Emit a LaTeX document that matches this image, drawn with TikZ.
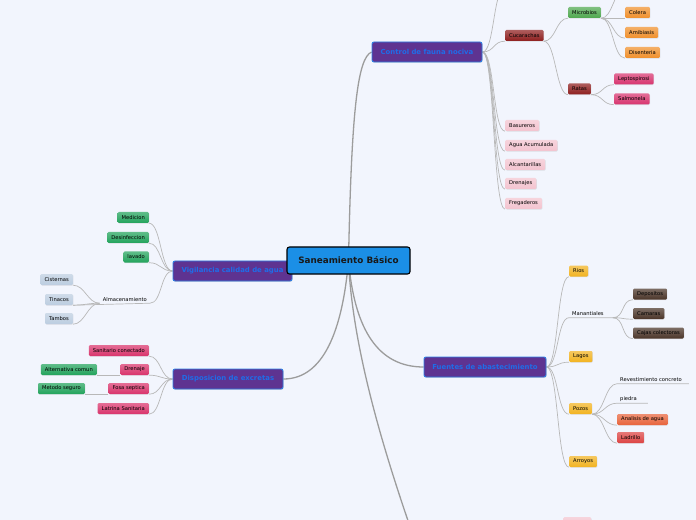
\documentclass[tikz,border=0pt]{standalone}
\usepackage{fontspec}
\setmainfont{DejaVu Sans}
\usetikzlibrary{shadows}
\pgfdeclarelayer{back}
\pgfdeclarelayer{edges}
\pgfsetlayers{back,edges,main}

\definecolor{mmBack}{HTML}{F2F5FD}
\definecolor{mmLine}{HTML}{B8B8B8}
\definecolor{mmRoot}{HTML}{1B8FE6}
\definecolor{mmTopic}{HTML}{5E3391}
\definecolor{mmTopicBorder}{HTML}{2D7FE4}
\definecolor{mmTopicText}{HTML}{1F6DE8}
\definecolor{mmDarkRed}{HTML}{8E1E1E}
\definecolor{mmGreen}{HTML}{4FA84F}
\definecolor{mmOrange}{HTML}{F0902C}
\definecolor{mmMagenta}{HTML}{D8336E}
\definecolor{mmPink}{HTML}{F3C3CF}
\definecolor{mmEmerald}{HTML}{22A35C}
\definecolor{mmSteel}{HTML}{BCCDE0}
\definecolor{mmRose}{HTML}{D9346C}
\definecolor{mmYellow}{HTML}{F2B321}
\definecolor{mmBrown}{HTML}{4B3529}
\definecolor{mmCoral}{HTML}{E8643C}
\definecolor{mmRed}{HTML}{DC4343}

\tikzset{
  root/.style={draw=black, line width=1.1pt, fill=mmRoot, rounded corners=2.5pt,
    minimum width=123bp, minimum height=27bp, inner sep=0pt,
    font=\fontsize{8.8bp}{10bp}\selectfont\bfseries, text=black!90},
  topic/.style={draw=mmTopicBorder, line width=0.9pt, fill=mmTopic, rounded corners=2pt,
    minimum height=20bp, inner sep=0pt, font=\fontsize{6.9bp}{8bp}\selectfont\bfseries,
    text=mmTopicText, drop shadow={shadow xshift=0.6pt, shadow yshift=-0.8pt, opacity=0.25}},
  leaf/.style={rounded corners=1.2pt, minimum height=11bp, inner xsep=4bp, inner ysep=0pt,
    font=\fontsize{5.2bp}{6bp}\selectfont, text=black,
    top color=#1!72!white, bottom color=#1,
    drop shadow={shadow xshift=0.5pt, shadow yshift=-0.6pt, opacity=0.2}},
  plain/.style={inner xsep=3bp, inner ysep=1.5bp, font=\fontsize{5.2bp}{6bp}\selectfont, text=black},
  branch/.style={draw=mmLine, line width=0.7pt},
  trunk/.style={draw=mmLine!85!black, line width=1.3pt},
  rlink/.style={to path={.. controls +(12,0) and +(-12,0) .. (\tikztotarget)}},
  llink/.style={to path={.. controls +(-12,0) and +(12,0) .. (\tikztotarget)}},
}

\begin{document}
\begin{tikzpicture}[x=1bp, y=-1bp]
% page and background
\useasboundingbox (0,0) rectangle (696,520);
\begin{pgfonlayer}{back}
  \fill[mmBack] (0,0) rectangle (696,520);
\end{pgfonlayer}

% Topics
\node[topic, minimum width=119bp] (vig) at (232.5,271) {Vigilancia calidad de agua};
\node[root] (main) at (348.5,260.5) {Saneamiento Básico};
\node[topic, minimum width=110bp] (ctrl) at (427,52) {Control de fauna nociva};
\node[topic, minimum width=110bp] (disp) at (228,379) {Disposicion de excretas};
\node[topic, minimum width=122bp] (fuen) at (485,367) {Fuentes de abastecimiento};
\coordinate (low) at (432,590);

% Control de fauna nociva
\coordinate (ctrltop) at (505,-12);
\node[leaf=mmDarkRed, anchor=west] (cuc) at (505,35.5) {Cucarachas};
\node[leaf=mmGreen, anchor=west] (mic) at (568,12.5) {Microbios};
\coordinate (mictop) at (625,-10);
\node[leaf=mmOrange, anchor=west] (col) at (625,12.5) {Colera};
\node[leaf=mmOrange, anchor=west] (ami) at (625,32.5) {Amibiasis};
\node[leaf=mmOrange, anchor=west] (dis) at (625,52.5) {Disenteria};
\node[leaf=mmDarkRed, anchor=west] (rat) at (568,89) {Ratas};
\node[leaf=mmMagenta, anchor=west] (lep) at (614,79) {Leptospirosi};
\node[leaf=mmMagenta, anchor=west] (sal) at (614,99) {Salmonela};
\node[leaf=mmPink, anchor=west] (bas) at (505,125.5) {Basureros};
\node[leaf=mmPink, anchor=west] (agu) at (505,145.5) {Agua Acumulada};
\node[leaf=mmPink, anchor=west] (alc) at (505,164.5) {Alcantarillas};
\node[leaf=mmPink, anchor=west] (dre) at (505,183.5) {Drenajes};
\node[leaf=mmPink, anchor=west] (fre) at (505,203.5) {Fregaderos};

% Vigilancia calidad de agua
\node[leaf=mmEmerald, anchor=east] (med) at (149,217.5) {Medicion};
\node[leaf=mmEmerald, anchor=east] (des) at (149,237.5) {Desinfeccion};
\node[leaf=mmEmerald, anchor=east] (lav) at (149,257) {lavado};
\node[plain, anchor=east] (alm) at (150,299.5) {Almacenamiento};
\node[leaf=mmSteel, anchor=east] (cis) at (73,279.5) {Cisternas};
\node[leaf=mmSteel, anchor=east] (tin) at (73,299.5) {Tinacos};
\node[leaf=mmSteel, anchor=east] (tam) at (73,318.5) {Tambos};

% Disposicion de excretas
\node[leaf=mmRose, anchor=east] (san) at (149,350.5) {Sanitario conectado};
\node[leaf=mmRose, anchor=east] (drj) at (149,369.5) {Drenaje};
\node[leaf=mmEmerald, anchor=east] (alt) at (97,369.5) {Alternativa comun};
\node[leaf=mmRose, anchor=east] (fos) at (149,388.5) {Fosa septica};
\node[leaf=mmEmerald, anchor=east] (met) at (85,388.5) {Metodo seguro};
\node[leaf=mmRose, anchor=east] (lat) at (149,408.5) {Latrina Sanitaria};

% Fuentes de abastecimiento
\node[leaf=mmYellow, anchor=west] (rio) at (569,271) {Rios};
\node[plain, anchor=west] (man) at (569,314) {Manantiales};
\node[leaf=mmBrown, anchor=west] (dep) at (633,294) {Depositos};
\node[leaf=mmBrown, anchor=west] (cam) at (633,313.5) {Camaras};
\node[leaf=mmBrown, anchor=west] (caj) at (633,333) {Cajas colectoras};
\node[leaf=mmYellow, anchor=west] (lag) at (569,356.5) {Lagos};
\node[leaf=mmYellow, anchor=west] (poz) at (569,408.5) {Pozos};
\node[plain, anchor=west] (rev) at (617,380) {Revestimiento concreto};
\node[plain, anchor=west] (pie) at (617,399) {piedra};
\node[leaf=mmCoral, anchor=west] (ana) at (617,419.5) {Analisis de agua};
\node[leaf=mmRed, anchor=west] (lad) at (617,437.5) {Ladrillo};
\node[leaf=mmYellow, anchor=west] (arr) at (569,461.5) {Arroyos};

% cut off by the page edge
\node[leaf=mmPink, anchor=north west, minimum width=28bp] (cut) at (563,517) {};

\begin{pgfonlayer}{edges}
  % from the root
  \draw[trunk] (main.center) .. controls +(3,-150) and +(-14,6) .. (ctrl.west);
  \draw[trunk] (main.center) -- (vig.east);
  \draw[trunk] (main.center) .. controls +(-6,70) and +(40,0) .. (disp.east);
  \draw[trunk] (main.center) .. controls +(6,70) and +(-45,0) .. (fuen.west);
  \draw[trunk] (main.center) .. controls +(5,120) and +(-20,-60) .. (low);
  % Control de fauna nociva
  \foreach \n in {ctrltop,cuc.south west,bas.south west,agu.south west,alc.south west,dre.south west,fre.south west}
    \draw[branch] (ctrl.east) to[rlink] (\n);
  \draw[branch] (cuc.south east) to[rlink] (mic.south west);
  \draw[branch] (cuc.south east) to[rlink] (rat.south west);
  \foreach \n in {mictop,col,ami,dis}
    \draw[branch] (mic.south east) to[rlink] (\n.south west);
  \draw[branch] (rat.south east) to[rlink] (lep.south west);
  \draw[branch] (rat.south east) to[rlink] (sal.south west);
  % Vigilancia calidad de agua
  \foreach \n in {med,des,lav}
    \draw[branch] (vig.west) to[llink] (\n.south east);
  \draw[branch] (vig.west) to[llink] (alm.south east) -- (tin.south east);
  \foreach \n in {cis,tin,tam}
    \draw[branch] (alm.south west) to[llink] (\n.south east);
  % Disposicion de excretas
  \foreach \n in {san,drj,fos,lat}
    \draw[branch] (disp.west) to[llink] (\n.south east);
  \draw[branch] (drj.south west) -- (alt.south east);
  \draw[branch] (fos.south west) -- (met.south east);
  % Fuentes de abastecimiento
  \foreach \n in {rio,lag,poz,arr}
    \draw[branch] (fuen.east) to[rlink] (\n.south west);
  \draw[branch] (fuen.east) to[rlink] (man.south west) -- ([xshift=10bp]man.south east);
  \foreach \n in {dep,cam,caj}
    \draw[branch] ([xshift=6bp]man.south east) to[rlink] (\n.south west);
  \draw[branch] (poz.south east) to[rlink] (rev.south west) -- ([xshift=4bp]rev.south east);
  \draw[branch] (poz.south east) to[rlink] (pie.south west) -- ([xshift=8bp]pie.south east);
  \draw[branch] (poz.south east) to[rlink] (ana.south west);
  \draw[branch] (poz.south east) to[rlink] (lad.south west);
\end{pgfonlayer}
\end{tikzpicture}
\end{document}
